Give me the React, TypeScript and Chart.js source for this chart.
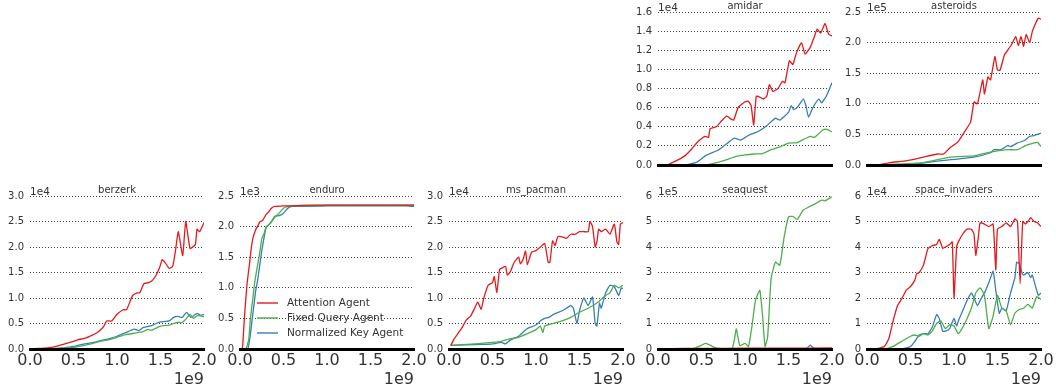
import React, { useEffect, useRef } from "react";
import { Chart, registerables } from "chart.js";

Chart.register(...registerables);

type Pt = [number, number];

// Series identity
const SERIES_NAMES = ["Attention Agent", "Fixed Query Agent", "Normalized Key Agent"];
const SERIES_COLORS = ["#e41a1c", "#4daf4a", "#377eb8"];

// x axis: training steps in units of 1e9
const X_TICKS = [0, 0.5, 1.0, 1.5, 2.0];
const X_EXP = "1e9";

// ---- amidar (scores in 1e4) ----
const amidarAttention: Pt[] = [[0,0],[0.1,0],[0.2,0.04],[0.3,0.09],[0.38,0.16],[0.46,0.245],[0.54,0.3],[0.58,0.29],[0.6,0.38],[0.67,0.4],[0.73,0.46],[0.79,0.51],[0.84,0.48],[0.87,0.47],[0.92,0.6],[0.97,0.64],[1.0,0.66],[1.04,0.665],[1.07,0.62],[1.1,0.42],[1.13,0.72],[1.17,0.71],[1.21,0.69],[1.25,0.72],[1.28,0.84],[1.32,0.77],[1.38,0.8],[1.43,0.875],[1.46,0.86],[1.51,1.09],[1.55,1.05],[1.59,1.17],[1.65,1.28],[1.69,1.16],[1.75,1.23],[1.8,1.35],[1.83,1.42],[1.87,1.38],[1.92,1.48],[1.96,1.37],[2.0,1.35]];
const amidarFixedQuery: Pt[] = [[0,0],[0.5,0],[0.6,0.01],[0.7,0.03],[0.8,0.06],[0.9,0.09],[1.0,0.105],[1.1,0.115],[1.2,0.12],[1.3,0.16],[1.4,0.19],[1.5,0.23],[1.6,0.235],[1.7,0.28],[1.75,0.3],[1.8,0.29],[1.85,0.33],[1.9,0.37],[1.95,0.37],[2.0,0.345]];
const amidarNormalizedKey: Pt[] = [[0,0],[0.3,0],[0.45,0.03],[0.55,0.1],[0.7,0.16],[0.8,0.23],[0.88,0.28],[0.95,0.26],[1.05,0.315],[1.15,0.35],[1.25,0.41],[1.35,0.49],[1.4,0.47],[1.5,0.55],[1.53,0.62],[1.56,0.58],[1.6,0.6],[1.67,0.69],[1.7,0.62],[1.73,0.5],[1.78,0.6],[1.85,0.69],[1.88,0.65],[1.94,0.73],[2.0,0.86]];

// ---- asteroids (scores in 1e5) ----
const asteroidsAttention: Pt[] = [[0,0],[0.12,0],[0.27,0.04],[0.46,0.07],[0.65,0.13],[0.81,0.18],[0.88,0.18],[0.96,0.29],[1.04,0.37],[1.12,0.54],[1.19,0.7],[1.23,1.03],[1.27,1.0],[1.33,1.39],[1.35,1.16],[1.39,1.44],[1.42,1.39],[1.47,1.77],[1.5,1.55],[1.53,1.55],[1.58,1.8],[1.62,1.88],[1.67,1.99],[1.71,2.1],[1.74,1.95],[1.77,2.1],[1.8,1.94],[1.83,2.13],[1.87,2.0],[1.9,2.18],[1.94,2.32],[1.97,2.4],[2.0,2.38]];
const asteroidsFixedQuery: Pt[] = [[0,0],[0.27,0.01],[0.65,0.04],[0.96,0.13],[1.23,0.15],[1.35,0.19],[1.5,0.23],[1.62,0.25],[1.73,0.25],[1.81,0.31],[1.92,0.36],[1.96,0.37],[2.0,0.3]];
const asteroidsNormalizedKey: Pt[] = [[0,0],[0.46,0.0],[0.85,0.07],[1.23,0.13],[1.42,0.2],[1.46,0.25],[1.54,0.25],[1.62,0.32],[1.65,0.3],[1.73,0.36],[1.81,0.4],[1.87,0.47],[1.92,0.48],[2.0,0.52]];

// ---- berzerk (scores in 1e4) ----
const berzerkAttention: Pt[] = [[0,0],[0.1,0.01],[0.2,0.02],[0.3,0.05],[0.4,0.1],[0.5,0.15],[0.55,0.18],[0.6,0.2],[0.65,0.22],[0.7,0.26],[0.75,0.3],[0.8,0.36],[0.85,0.45],[0.88,0.55],[0.94,0.55],[1.0,0.68],[1.07,0.77],[1.11,0.77],[1.18,1.05],[1.23,1.1],[1.26,1.1],[1.31,1.28],[1.36,1.3],[1.41,1.35],[1.45,1.45],[1.49,1.6],[1.52,1.75],[1.55,1.7],[1.6,1.58],[1.64,1.62],[1.67,1.9],[1.705,2.3],[1.755,1.83],[1.79,2.5],[1.84,1.97],[1.9,2.05],[1.92,2.35],[1.95,2.3],[2.0,2.48]];
const berzerkFixedQuery: Pt[] = [[0,0],[0.3,0.005],[0.5,0.03],[0.6,0.06],[0.7,0.1],[0.8,0.15],[0.9,0.18],[1.0,0.23],[1.1,0.28],[1.2,0.31],[1.3,0.34],[1.35,0.38],[1.4,0.37],[1.5,0.45],[1.6,0.47],[1.65,0.5],[1.7,0.52],[1.75,0.52],[1.8,0.6],[1.84,0.68],[1.88,0.6],[1.92,0.65],[1.96,0.65],[2.0,0.63]];
const berzerkNormalizedKey: Pt[] = [[0,0],[0.3,0.01],[0.5,0.05],[0.6,0.09],[0.7,0.12],[0.8,0.16],[0.9,0.2],[1.0,0.25],[1.1,0.32],[1.2,0.39],[1.25,0.36],[1.3,0.42],[1.4,0.46],[1.45,0.5],[1.5,0.53],[1.6,0.55],[1.65,0.62],[1.7,0.64],[1.75,0.62],[1.8,0.72],[1.85,0.62],[1.88,0.65],[1.92,0.7],[1.96,0.66],[2.0,0.68]];

// ---- enduro (scores in 1e3) ----
const enduroAttention: Pt[] = [[0,0],[0.027,0],[0.05,0.5],[0.08,1.05],[0.11,1.4],[0.13,1.65],[0.15,1.82],[0.18,1.95],[0.2,2.0],[0.23,2.08],[0.26,2.1],[0.3,2.2],[0.33,2.24],[0.36,2.3],[0.4,2.33],[0.5,2.34],[0.6,2.34],[0.8,2.35],[1.0,2.35],[1.5,2.35],[2.0,2.35]];
const enduroFixedQuery: Pt[] = [[0,0],[0.065,0],[0.1,0.15],[0.12,0.5],[0.15,0.85],[0.17,1.1],[0.2,1.35],[0.23,1.6],[0.25,1.8],[0.28,1.9],[0.3,2.0],[0.33,2.03],[0.36,2.07],[0.4,2.15],[0.45,2.22],[0.5,2.3],[0.55,2.33],[0.6,2.34],[0.8,2.34],[1.0,2.35],[1.5,2.35],[2.0,2.35]];
const enduroNormalizedKey: Pt[] = [[0,0],[0.088,0],[0.12,0.25],[0.15,0.6],[0.18,0.95],[0.2,1.1],[0.23,1.4],[0.25,1.6],[0.28,1.85],[0.3,1.98],[0.33,2.03],[0.36,2.08],[0.4,2.17],[0.45,2.18],[0.5,2.22],[0.55,2.3],[0.6,2.33],[0.8,2.33],[1.0,2.34],[1.5,2.34],[1.9,2.34],[2.0,2.33]];

// ---- ms_pacman (scores in 1e4) ----
const msPacmanAttention: Pt[] = [[0.02,0.07],[0.06,0.2],[0.1,0.3],[0.15,0.42],[0.2,0.57],[0.25,0.65],[0.3,0.82],[0.33,0.92],[0.37,0.78],[0.4,1.0],[0.45,1.25],[0.5,1.3],[0.52,1.42],[0.55,1.11],[0.58,1.55],[0.6,1.58],[0.65,1.62],[0.67,1.45],[0.7,1.5],[0.75,1.7],[0.8,1.8],[0.82,1.67],[0.85,1.75],[0.88,1.92],[0.9,1.65],[0.95,1.9],[1.0,1.93],[1.05,2.0],[1.1,2.07],[1.14,1.7],[1.16,1.7],[1.19,2.12],[1.22,2.03],[1.25,2.2],[1.3,2.2],[1.35,2.17],[1.4,2.25],[1.45,2.25],[1.5,2.3],[1.55,2.3],[1.6,2.3],[1.62,2.5],[1.65,2.4],[1.68,2.0],[1.7,2.1],[1.72,2.35],[1.75,2.3],[1.8,2.35],[1.85,2.25],[1.9,2.45],[1.93,2.1],[1.95,2.05],[1.97,2.45],[2.0,2.48]];
const msPacmanFixedQuery: Pt[] = [[0.02,0.07],[0.3,0.1],[0.5,0.13],[0.6,0.15],[0.7,0.2],[0.8,0.23],[0.9,0.3],[1.0,0.38],[1.05,0.45],[1.08,0.32],[1.1,0.45],[1.2,0.5],[1.3,0.55],[1.4,0.62],[1.5,0.72],[1.6,0.8],[1.7,0.9],[1.8,1.05],[1.85,1.1],[1.9,1.25],[1.95,1.2],[2.0,1.25]];
const msPacmanNormalizedKey: Pt[] = [[0.02,0.07],[0.2,0.08],[0.4,0.09],[0.5,0.1],[0.6,0.13],[0.65,0.1],[0.7,0.17],[0.8,0.25],[0.85,0.33],[0.9,0.4],[1.0,0.47],[1.05,0.55],[1.1,0.6],[1.15,0.62],[1.2,0.68],[1.3,0.75],[1.35,0.8],[1.4,0.85],[1.43,0.8],[1.47,0.5],[1.5,0.75],[1.55,1.0],[1.6,0.85],[1.65,1.02],[1.68,0.5],[1.7,0.45],[1.73,0.9],[1.75,0.8],[1.8,1.1],[1.85,1.25],[1.9,1.22],[1.95,1.05],[1.98,1.2],[2.0,1.18]];

// ---- seaquest (scores in 1e5) ----
const seaquestAttention: Pt[] = [[0,0],[0.3,0.02],[0.5,0.02],[1.0,0.03],[1.5,0.03],[2.0,0.04]];
const seaquestFixedQuery: Pt[] = [[0,0],[0.4,0],[0.45,0.08],[0.5,0.15],[0.55,0.22],[0.6,0.15],[0.65,0.06],[0.7,0.02],[0.85,0.02],[0.88,0.4],[0.9,0.79],[0.94,0.13],[1.0,0.22],[1.04,0.1],[1.08,0.9],[1.12,1.9],[1.17,2.3],[1.2,1.38],[1.23,0.1],[1.26,0.46],[1.3,2.76],[1.35,3.41],[1.4,3.28],[1.45,4.4],[1.5,5.18],[1.55,5.2],[1.6,5.08],[1.67,5.45],[1.75,5.6],[1.81,5.7],[1.88,5.84],[1.92,5.81],[2.0,5.97]];
const seaquestNormalizedKey: Pt[] = [[0,0],[1.0,0.0],[1.7,0.0],[1.75,0.15],[1.8,0.0],[2.0,0.01]];

// ---- space_invaders (scores in 1e4) ----
const spaceInvadersAttention: Pt[] = [[0,0],[0.1,0],[0.2,0.1],[0.25,0.4],[0.3,1.1],[0.35,1.7],[0.4,1.97],[0.45,2.3],[0.5,2.45],[0.55,2.7],[0.57,2.95],[0.6,3.0],[0.65,3.3],[0.7,3.93],[0.75,4.05],[0.8,4.1],[0.83,4.3],[0.87,3.95],[0.9,4.0],[0.95,4.1],[0.98,4.2],[1.0,2.0],[1.03,4.0],[1.05,4.2],[1.1,4.5],[1.15,4.7],[1.2,4.7],[1.23,4.5],[1.25,3.67],[1.28,4.4],[1.3,4.95],[1.35,4.9],[1.4,4.8],[1.45,4.9],[1.48,3.1],[1.5,4.7],[1.55,4.8],[1.6,4.95],[1.65,4.8],[1.7,5.1],[1.73,5.0],[1.76,2.56],[1.79,5.0],[1.82,4.9],[1.85,5.0],[1.88,5.15],[1.92,5.0],[1.96,4.95],[2.0,4.8]];
const spaceInvadersFixedQuery: Pt[] = [[0,0],[0.2,0],[0.3,0.1],[0.4,0.3],[0.5,0.5],[0.55,0.55],[0.6,0.5],[0.65,0.6],[0.7,0.55],[0.75,0.7],[0.8,1.0],[0.85,1.1],[0.9,0.8],[0.95,0.95],[1.0,0.9],[1.05,0.6],[1.1,0.85],[1.15,1.2],[1.2,1.6],[1.25,2.2],[1.3,2.4],[1.35,2.1],[1.4,0.8],[1.45,1.3],[1.5,2.1],[1.55,1.6],[1.6,1.5],[1.65,0.95],[1.7,1.4],[1.75,1.55],[1.8,1.6],[1.85,1.75],[1.9,1.6],[1.95,2.05],[2.0,1.95]];
const spaceInvadersNormalizedKey: Pt[] = [[0,0],[0.4,0],[0.5,0.1],[0.55,0.3],[0.6,0.55],[0.65,0.6],[0.7,0.6],[0.75,0.85],[0.8,1.35],[0.83,1.2],[0.87,0.7],[0.9,0.7],[0.95,0.8],[1.0,1.2],[1.03,0.9],[1.05,1.1],[1.1,1.5],[1.15,1.9],[1.2,2.2],[1.23,2.0],[1.27,1.7],[1.3,1.9],[1.35,2.2],[1.4,2.6],[1.45,3.05],[1.48,2.3],[1.52,1.4],[1.55,1.6],[1.6,1.5],[1.65,2.2],[1.7,2.8],[1.72,3.4],[1.75,3.35],[1.78,3.0],[1.8,2.9],[1.85,3.0],[1.88,2.8],[1.9,2.9],[1.95,2.3],[1.97,2.1],[2.0,2.2]];

// Panel definitions (grid cell, y range, offset text)
type PanelDef = {
  title: string; exp: string; row: number; col: number;
  yMax: number; yStep: number; decimals: number; showX: boolean; legend: boolean;
  series: Pt[][];
};

const PANELS: PanelDef[] = [
  { title: "amidar", exp: "1e4", row: 0, col: 3, yMax: 1.6, yStep: 0.2, decimals: 1, showX: false, legend: false, series: [amidarAttention, amidarFixedQuery, amidarNormalizedKey] },
  { title: "asteroids", exp: "1e5", row: 0, col: 4, yMax: 2.5, yStep: 0.5, decimals: 1, showX: false, legend: false, series: [asteroidsAttention, asteroidsFixedQuery, asteroidsNormalizedKey] },
  { title: "berzerk", exp: "1e4", row: 1, col: 0, yMax: 3.0, yStep: 0.5, decimals: 1, showX: true, legend: false, series: [berzerkAttention, berzerkFixedQuery, berzerkNormalizedKey] },
  { title: "enduro", exp: "1e3", row: 1, col: 1, yMax: 2.5, yStep: 0.5, decimals: 1, showX: true, legend: true, series: [enduroAttention, enduroFixedQuery, enduroNormalizedKey] },
  { title: "ms_pacman", exp: "1e4", row: 1, col: 2, yMax: 3.0, yStep: 0.5, decimals: 1, showX: true, legend: false, series: [msPacmanAttention, msPacmanFixedQuery, msPacmanNormalizedKey] },
  { title: "seaquest", exp: "1e5", row: 1, col: 3, yMax: 6, yStep: 1, decimals: 0, showX: true, legend: false, series: [seaquestAttention, seaquestFixedQuery, seaquestNormalizedKey] },
  { title: "space_invaders", exp: "1e4", row: 1, col: 4, yMax: 6, yStep: 1, decimals: 0, showX: true, legend: false, series: [spaceInvadersAttention, spaceInvadersFixedQuery, spaceInvadersNormalizedKey] },
];

// Layout
const COL_LEFT = [30, 240, 449, 658, 867];
const ROW_TOP = [12, 196];
const PLOT_W = 174;
const PLOT_H = 153;
const PAD_L = 30;
const PAD_T = 14;
const PAD_R = 18;
const PAD_B = 40;
const FONT = "DejaVu Sans";
const TEXT = "#333333";

function Panel({ def }: { def: PanelDef }) {
  const ref = useRef<HTMLCanvasElement | null>(null);
  useEffect(() => {
    if (!ref.current) return;
    const overlay = {
      id: "overlay",
      afterDraw(chart: any) {
        const { ctx, chartArea } = chart;
        ctx.save();
        ctx.fillStyle = TEXT;
        ctx.textBaseline = "alphabetic";
        ctx.font = `10px "${FONT}"`;
        ctx.textAlign = "center";
        ctx.fillText(def.title, (chartArea.left + chartArea.right) / 2, chartArea.top - 3);
        ctx.font = `10.5px "${FONT}"`;
        ctx.textAlign = "left";
        ctx.fillText(def.exp, chartArea.left, chartArea.top - 1);
        if (def.showX) {
          ctx.font = `16px "${FONT}"`;
          ctx.textAlign = "right";
          ctx.fillText(X_EXP, chartArea.right, chartArea.bottom + 34.5);
        }
        if (def.legend) {
          ctx.font = `10.5px "${FONT}"`;
          ctx.textAlign = "left";
          ctx.textBaseline = "middle";
          SERIES_NAMES.forEach((name, i) => {
            const y = chartArea.bottom - 46 + i * 15;
            ctx.strokeStyle = SERIES_COLORS[i];
            ctx.lineWidth = 1.4;
            ctx.beginPath();
            ctx.moveTo(chartArea.left + 17, y);
            ctx.lineTo(chartArea.left + 38, y);
            ctx.stroke();
            ctx.fillStyle = TEXT;
            ctx.fillText(name, chartArea.left + 47, y);
          });
        }
        ctx.restore();
      },
    };
    const chart = new Chart(ref.current, {
      type: "line",
      data: {
        datasets: def.series.map((s, i) => ({
          label: SERIES_NAMES[i],
          data: s.map(([x, y]) => ({ x, y })),
          borderColor: SERIES_COLORS[i],
          backgroundColor: SERIES_COLORS[i],
          borderWidth: 1.3,
          pointRadius: 0,
          tension: 0.15,
          fill: false,
        })),
      },
      options: {
        animation: false,
        responsive: false,
        devicePixelRatio: 1,
        layout: { padding: { left: 0, top: PAD_T, right: PAD_R, bottom: 0 } },
        plugins: { legend: { display: false }, tooltip: { enabled: false }, title: { display: false } },
        scales: {
          x: {
            type: "linear",
            min: 0,
            max: 2,
            afterFit: (s: any) => { s.height = PAD_B; },
            afterBuildTicks: (s: any) => { s.ticks = X_TICKS.map((v) => ({ value: v })); },
            ticks: {
              display: def.showX,
              padding: 2,
              color: TEXT,
              font: { family: FONT, size: 16 },
              maxRotation: 0,
              autoSkip: false,
              callback: (v: any) => Number(v).toFixed(1),
            },
            grid: { display: false, drawTicks: false },
            border: { display: true, color: "#000000", width: 3, z: 1 },
          },
          y: {
            type: "linear",
            min: 0,
            max: def.yMax,
            afterFit: (s: any) => { s.width = PAD_L; },
            ticks: {
              stepSize: def.yStep,
              padding: 6,
              color: TEXT,
              font: { family: FONT, size: 10 },
              callback: (v: any) => Number(v).toFixed(def.decimals),
            },
            grid: { display: true, drawTicks: false, color: "rgba(0,0,0,0.75)", lineWidth: 1 },
            border: { display: false, dash: [1, 2] },
          },
        },
      },
      plugins: [overlay],
    });
    return () => chart.destroy();
  }, [def]);
  const left = COL_LEFT[def.col] - PAD_L;
  const top = ROW_TOP[def.row] - PAD_T;
  const width = PLOT_W + PAD_L + PAD_R;
  const height = PLOT_H + PAD_T + PAD_B;
  return (
    <canvas
      ref={ref}
      width={width}
      height={height}
      style={{ position: "absolute", left, top, width, height }}
    />
  );
}

export default function App() {
  return (
    <div style={{ position: "fixed", left: 0, top: 0, width: 1056, height: 389, background: "#ffffff", overflow: "hidden" }}>
      {PANELS.map((p) => (
        <Panel key={p.title} def={p} />
      ))}
    </div>
  );
}
